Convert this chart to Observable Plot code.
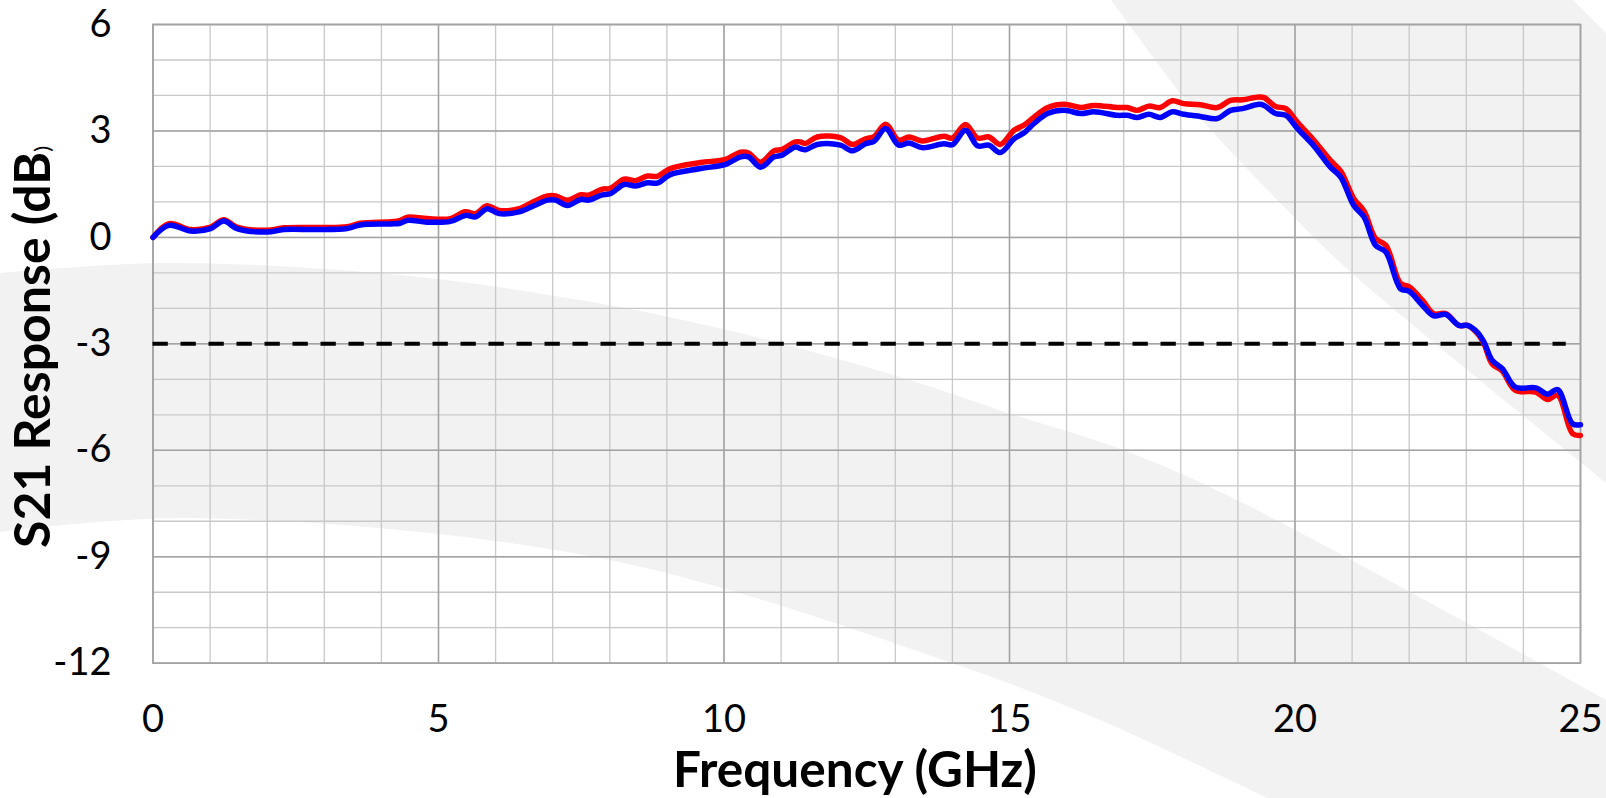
<!DOCTYPE html>
<html><head><meta charset="utf-8">
<script src="https://cdn.jsdelivr.net/npm/d3@7"></script>
<script src="https://cdn.jsdelivr.net/npm/@observablehq/plot@0.6"></script>
<style>body{margin:0;background:#fff;} #chart{width:1606px;height:798px;position:relative;}</style>
</head><body><div id="chart"></div>
<script>
const freq = [0.0,0.28,0.66,1.01,1.24,1.47,2.0,2.29,2.88,3.4,3.63,4.16,4.33,4.46,4.8,5.21,5.47,5.65,5.85,6.06,6.41,6.68,6.91,7.05,7.26,7.49,7.63,7.87,8.01,8.25,8.45,8.66,8.83,9.06,9.59,10.03,10.29,10.43,10.64,10.88,11.02,11.25,11.34,11.43,11.63,12.04,12.25,12.48,12.63,12.83,13.06,13.24,13.47,13.85,14.0,14.23,14.44,14.64,14.84,15.08,15.25,15.43,15.67,15.96,16.25,16.48,16.89,17.06,17.24,17.44,17.64,17.85,18.05,18.34,18.64,18.87,19.08,19.37,19.46,19.66,19.84,20.04,20.33,20.62,20.8,21.03,21.21,21.41,21.59,21.85,22.0,22.23,22.43,22.64,22.87,23.02,23.19,23.31,23.45,23.63,23.86,24.22,24.42,24.6,24.86,25.0];
const s21Blue = [0.0,0.34,0.18,0.25,0.46,0.25,0.15,0.22,0.22,0.25,0.35,0.38,0.40,0.48,0.43,0.45,0.62,0.58,0.81,0.67,0.72,0.90,1.05,1.05,0.90,1.07,1.05,1.20,1.23,1.49,1.45,1.54,1.53,1.77,1.94,2.06,2.27,2.27,1.98,2.27,2.32,2.55,2.50,2.47,2.62,2.60,2.44,2.64,2.71,3.07,2.60,2.66,2.53,2.64,2.61,3.02,2.58,2.60,2.39,2.78,2.94,3.21,3.49,3.58,3.49,3.54,3.44,3.44,3.38,3.47,3.38,3.54,3.47,3.41,3.35,3.58,3.63,3.75,3.72,3.49,3.44,3.07,2.58,1.98,1.70,0.90,0.57,-0.22,-0.41,-1.45,-1.52,-1.91,-2.21,-2.17,-2.48,-2.48,-2.67,-2.95,-3.46,-3.70,-4.22,-4.24,-4.42,-4.29,-5.25,-5.28];
const s21Red = [0.0,0.39,0.22,0.29,0.50,0.29,0.20,0.27,0.28,0.30,0.40,0.44,0.48,0.57,0.53,0.53,0.72,0.67,0.89,0.76,0.81,1.02,1.17,1.17,1.05,1.20,1.19,1.36,1.38,1.64,1.60,1.73,1.72,1.94,2.11,2.20,2.40,2.38,2.12,2.44,2.48,2.69,2.69,2.65,2.83,2.81,2.62,2.78,2.84,3.19,2.74,2.83,2.72,2.85,2.80,3.18,2.80,2.83,2.62,3.02,3.16,3.39,3.66,3.75,3.66,3.72,3.66,3.66,3.58,3.70,3.66,3.85,3.77,3.74,3.66,3.86,3.88,3.96,3.94,3.69,3.63,3.25,2.74,2.17,1.87,1.09,0.74,-0.03,-0.22,-1.30,-1.39,-1.77,-2.15,-2.15,-2.48,-2.48,-2.70,-3.00,-3.56,-3.77,-4.31,-4.36,-4.57,-4.45,-5.53,-5.58];
const xTicks = [0,5,10,15,20,25];
const yTicks = [-12,-9,-6,-3,0,3,6];
const xMinor = d3.range(0,26,1);
const yMinor = d3.range(-12,7,1);
const threshold = [-3];
const xTitle = "Frequency (GHz)";
const yTitle = "S21 Response (dB";

const rows = freq.map((f,i)=>({f, red:s21Red[i], blue:s21Blue[i]}));

const plot = Plot.plot({
  width:1606, height:798,
  marginLeft:152.5, marginRight:26, marginTop:24, marginBottom:135.3,
  x:{domain:[0,25]}, y:{domain:[-12,6]},
  style:{fontFamily:"Lato", background:"transparent", color:"#000", overflow:"visible"},
  marks:[
    Plot.ruleX(xMinor,{stroke:"#c8c8c8", strokeWidth:1.3}),
    Plot.ruleY(yMinor,{stroke:"#c8c8c8", strokeWidth:1.3}),
    Plot.ruleX(xTicks,{stroke:"#a3a3a3", strokeWidth:1.5}),
    Plot.ruleY(yTicks,{stroke:"#a3a3a3", strokeWidth:1.5}),
    Plot.frame({stroke:"#a3a3a3", strokeWidth:1.5}),
    Plot.axisX(xTicks,{tickSize:0, tickPadding:42, fontSize:38, tickFormat:d=>String(d), label:null}),
    Plot.axisY(yTicks,{tickSize:0, tickPadding:41.5, fontSize:38, tickFormat:d=>String(d), label:null}),
    Plot.ruleY(threshold,{x1:0, x2:24.75, stroke:"#000", strokeWidth:4, strokeDasharray:"15.3,12.7"}),
    Plot.line(rows,{x:"f", y:"red", stroke:"#ff0000", strokeWidth:5.5, curve:"catmull-rom"}),
    Plot.line(rows,{x:"f", y:"blue", stroke:"#0000ff", strokeWidth:5.5, curve:"catmull-rom"})
  ]
});
document.getElementById("chart").appendChild(plot);

// decorative background bands
const svg = d3.select(plot);
const bg = svg.insert("g", ":first-child").attr("fill", "#f2f2f2");
const edge = d3.line().curve(d3.curveCatmullRom);
const aLower = [[1606,483],[1383,300],[1327,250],[1200,118],[1183,97],[1111,0]];
bg.append("path").attr("d", "M1111,0L1573,0L1606,33" + edge(aLower).replace(/^M/, "L") + "Z");
const bUpper = [[0,273],[167,263],[400,275],[580,300],[723,329],[900,377],[1008,413],[1123,450],[1233,498],[1606,700]];
const bLower = [[1267,798],[1100,720],[952,663],[600,558],[191,518],[0,532]];
bg.append("path").attr("d", edge(bUpper) + "L1606,798" + edge(bLower).replace(/^M/, "L") + "Z");

// axis titles
svg.append("text").attr("x", 855).attr("y", 787).attr("text-anchor", "middle")
  .attr("font-family", "Lato").attr("font-weight", "bold").attr("font-size", 49.5).attr("fill", "#000")
  .text(xTitle);
const yt = svg.append("text").attr("transform", "translate(50,347) rotate(-90)").attr("text-anchor", "middle")
  .attr("font-family", "Lato").attr("font-weight", "bold").attr("font-size", 50).attr("fill", "#000");
yt.append("tspan").text(yTitle);
yt.append("tspan").attr("font-size", 22).attr("font-weight", "normal").text(")");
</script></body></html>
